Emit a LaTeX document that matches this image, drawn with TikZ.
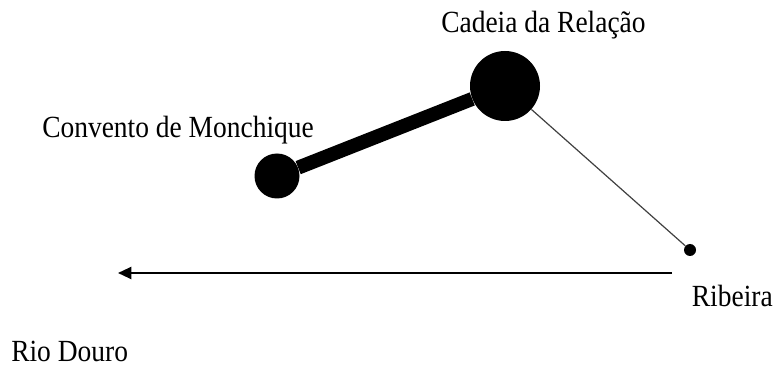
\documentclass[tikz,border=0pt]{standalone}
\usepackage{fontspec}
\setmainfont{Liberation Serif}
\usetikzlibrary{arrows.meta}

\newcommand{\tall}[1]{\scalebox{1}[1.12]{#1}}

\tikzset{
  place/.style={circle,fill=black,inner sep=0pt},
  label/.style={anchor=base west,inner sep=0pt,font=\fontsize{20.6pt}{24pt}\selectfont}
}

\begin{document}
\begin{tikzpicture}[x=0.75pt,y=-0.75pt]
    \useasboundingbox (0,0) rectangle (776,367);

    \node (cadeia) at (505,86) [place,minimum size=52.5pt] {};
    \node (convento) at (277,176) [place,minimum size=33.75pt] {};
    \node (ribeira) at (690,250) [place,minimum size=9pt] {};
    \coordinate (rioA) at (672,273);
    \coordinate (rioB) at (118,273);

    \draw[line width=10.5pt] (convento) -- (cadeia);
    \draw[line width=0.9pt,black!75] (cadeia) -- (ribeira);
    \draw[line width=1.6pt,-{Triangle[length=10pt,width=9pt]}] (rioA) -- (rioB);

    \node (tcadeia) at (441,33) [label] {\tall{Cadeia da Relação}};
    \node (tconvento) at (42,138) [label] {\tall{Convento de Monchique}};
    \node (tribeira) at (773,307) [label,anchor=base east] {\tall{Ribeira}};
    \node (trio) at (11,362) [label] {\tall{Rio Douro}};
\end{tikzpicture}
\end{document}
